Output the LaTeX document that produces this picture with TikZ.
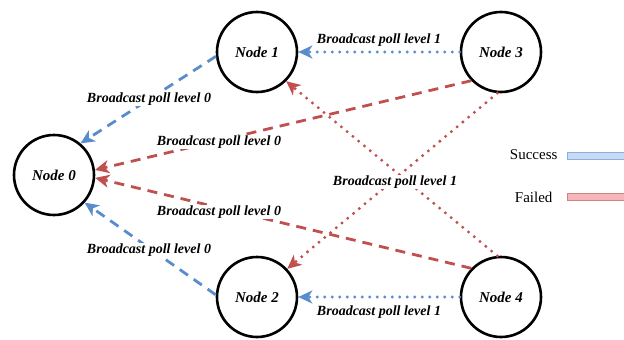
\documentclass[tikz,border=0pt]{standalone}
\usepackage{fontspec}
\setmainfont{Liberation Serif}
\usetikzlibrary{arrows.meta}

\definecolor{okblue}{RGB}{88,140,205}
\definecolor{failred}{RGB}{192,80,77}
\definecolor{okfill}{RGB}{200,218,245}
\definecolor{failfill}{RGB}{244,184,186}

\tikzset{
  peer/.style={circle, draw=black, line width=2.6pt, minimum size=80pt, inner sep=0pt,
    font=\fontsize{15}{17}\selectfont\bfseries\itshape},
  pollok/.style={draw=okblue, line width=2.8pt, -{Stealth[inset=4pt, length=14pt, width=13pt]}},
  pollfail/.style={draw=failred, line width=2.8pt, -{Stealth[inset=4pt, length=14pt, width=13pt]}},
  lvlzero/.style={dash pattern=on 10pt off 7pt},
  lvlone/.style={line width=3.3pt, line cap=round, dash pattern=on 0pt off 7.5pt},
  polllabel/.style={fill=white, inner sep=1pt, font=\fontsize{14}{16}\selectfont\bfseries\itshape},
  legtext/.style={font=\fontsize{15}{17}\selectfont},
  legbar/.style={line width=1pt}
}

\begin{document}
\begin{tikzpicture}[x=1pt, y=-1pt]
  \useasboundingbox (0,0) rectangle (624,340);
  \node[peer] (n0) at (54,175) {Node 0};
  \node[peer] (n1) at (257,52) {Node 1};
  \node[peer] (n2) at (257,297) {Node 2};
  \node[peer] (n3) at (501,52) {Node 3};
  \node[peer] (n4) at (501,297) {Node 4};
  %
  \draw[pollok, lvlzero] (n1.186) -- (n0.50);
  \draw[pollok, lvlzero] (n2.177) -- (n0.-42);
  \draw[pollok, lvlone] (n3.west) -- (n1.east);
  \draw[pollok, lvlone] (n4.west) -- (n2.east);
  \draw[pollfail, lvlzero] (n3.224) -- (n0.7);
  \draw[pollfail, lvlzero] (n4.136) -- (n0.-4);
  \draw[pollfail, lvlone] (n3.265) -- (n2.43);
  \draw[pollfail, lvlone] (n4.95) -- (n1.-45);
  %
  \node[polllabel] (l1) at (149,99) {Broadcast poll level 0};
  \node[polllabel] (l2) at (379,40) {Broadcast poll level 1};
  \node[polllabel] (l3) at (219,142) {Broadcast poll level 0};
  \node[polllabel] (l4) at (395,182) {Broadcast poll level 1};
  \node[polllabel] (l5) at (219,212) {Broadcast poll level 0};
  \node[polllabel] (l6) at (149,250) {Broadcast poll level 0};
  \node[polllabel] (l7) at (379,312) {Broadcast poll level 1};
  % legend
  \node[legtext, anchor=east] (ok) at (561,155) {Success};
  \node[legtext, anchor=east] (fail) at (556,197) {Failed};
  \filldraw[legbar, draw=okblue!70, fill=okfill] (567,152.5) rectangle (630,159);
  \filldraw[legbar, draw=failred!70, fill=failfill] (567,193.5) rectangle (630,200);
\end{tikzpicture}
\end{document}
